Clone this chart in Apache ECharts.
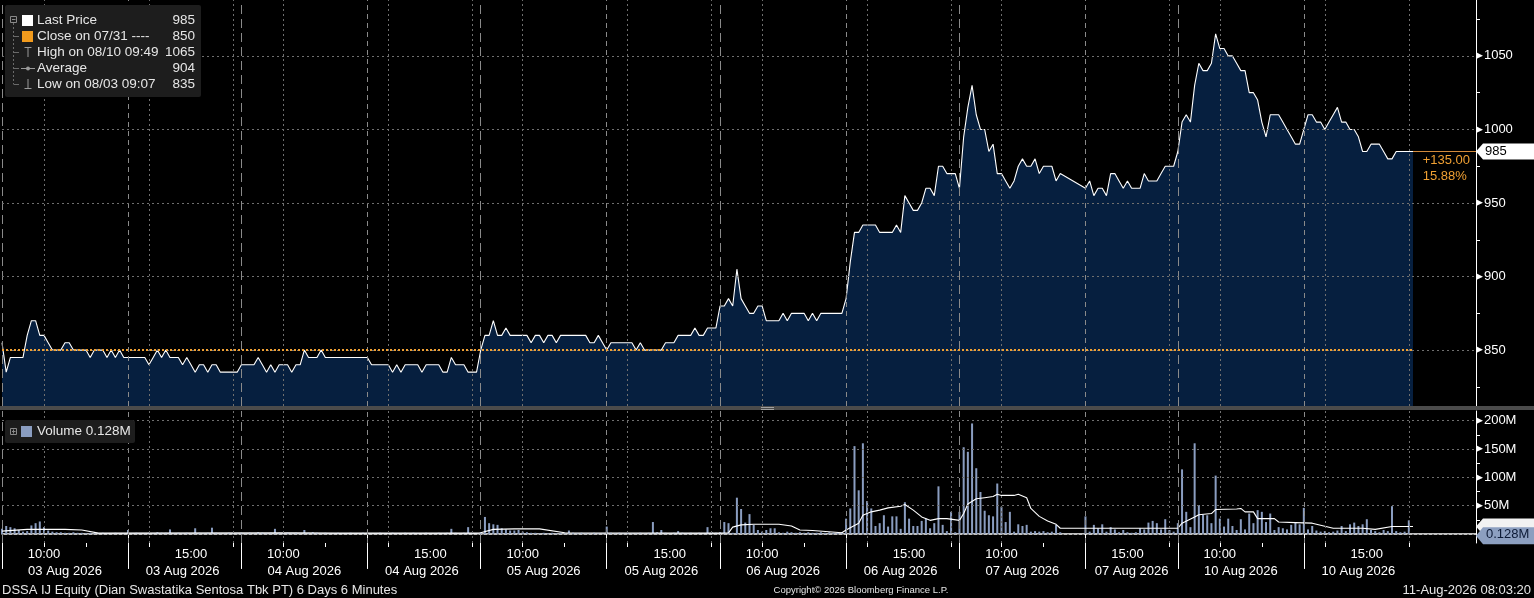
<!DOCTYPE html>
<html>
<head>
<meta charset="utf-8">
<title>DSSA IJ Equity - 6 Days 6 Minutes</title>
<script src="https://cdn.jsdelivr.net/npm/echarts@6/dist/echarts.min.js"></script>
<style>
  html, body { margin: 0; padding: 0; background: #000; }
  #chart { width: 1534px; height: 598px; }
</style>
</head>
<body>
<div id="chart"></div>
<script>
// ---- sessions on the time axis (6 minute slots) ----
const sessionDay = ['03 Aug 2026', '03 Aug 2026', '04 Aug 2026', '04 Aug 2026', '05 Aug 2026', '05 Aug 2026',
  '06 Aug 2026', '06 Aug 2026', '07 Aug 2026', '07 Aug 2026', '10 Aug 2026', '10 Aug 2026'];
const sessionOpen = ['09:00', '13:30', '09:00', '13:30', '09:00', '13:30', '09:00', '13:30', '09:00', '14:00', '09:00', '13:30'];
const sessionSlots = [30, 27, 30, 27, 30, 27, 30, 27, 30, 22, 30, 27];
const padSlots = 15;

// ---- last price per bar ----
const p03am = [855, 835, 845, 845, 845, 845, 860, 870, 870, 860, 860, 855, 850, 850, 850, 855, 855, 850, 850, 850, 850, 845, 850, 850, 850, 845, 850, 845, 850, 845];
const p03pm = [845, 845, 845, 845, 845, 840, 845, 850, 845, 850, 845, 845, 845, 840, 845, 840, 835, 840, 840, 835, 840, 840, 835, 835, 835, 835, 835];
const p04am = [840, 840, 840, 840, 845, 840, 835, 840, 835, 840, 840, 840, 835, 840, 840, 850, 845, 845, 845, 850, 845, 845, 845, 845, 845, 845, 845, 845, 845, 845];
const p04pm = [845, 840, 840, 840, 840, 840, 835, 840, 835, 840, 840, 840, 840, 835, 840, 840, 840, 840, 835, 835, 845, 840, 840, 840, 835, 835, 835];
const p05am = [850, 860, 860, 870, 860, 860, 865, 860, 860, 860, 860, 860, 855, 860, 860, 855, 860, 860, 855, 860, 860, 860, 860, 860, 860, 860, 855, 855, 860, 855];
const p05pm = [850, 855, 855, 855, 855, 855, 855, 850, 855, 850, 850, 850, 850, 850, 855, 855, 855, 860, 860, 860, 860, 865, 860, 860, 865, 865, 865];
const p06am = [880, 880, 885, 880, 905, 885, 880, 875, 875, 880, 880, 870, 870, 870, 870, 875, 870, 875, 875, 875, 875, 870, 875, 870, 875, 875, 875, 875, 875, 875];
const p06pm = [885, 910, 930, 930, 935, 935, 935, 935, 930, 930, 930, 930, 935, 930, 955, 950, 945, 945, 950, 960, 960, 955, 975, 975, 970, 970, 970];
const p07am = [960, 995, 1015, 1030, 1010, 1000, 1000, 985, 990, 970, 970, 965, 960, 965, 975, 980, 975, 975, 980, 970, 975, 975, 975, 965, 970];
const p07pm = [960, 965, 955, 960, 960, 955, 970, 970, 965, 960, 965, 960, 960, 960, 970, 965, 965, 965, 970, 975, 975, 975];
const p10am = [985, 1005, 1010, 1005, 1030, 1045, 1040, 1040, 1045, 1065, 1055, 1055, 1050, 1050, 1045, 1040, 1040, 1025, 1025, 1020, 1005, 995, 1010, 1010, 1010, 1005, 1000, 995, 990, 990];
const p10pm = [1000, 1010, 1010, 1005, 1005, 1000, 1005, 1010, 1015, 1005, 1005, 1000, 1000, 995, 985, 985, 990, 990, 990, 985, 980, 980, 985, 985, 985, 985, 985];
const priceSessions = [p03am, p03pm, p04am, p04pm, p05am, p05pm, p06am, p06pm, p07am, p07pm, p10am, p10pm];

// ---- volume per bar (millions) ----
const v03am = [9, 14, 12, 10, 7, 4, 5, 15, 19, 22, 12, 6, 4, 3, 3, 2, 2, 3, 2, 2, 1, 2, 1, 1, 2, 1, 1, 2, 1, 1];
const v03pm = [7, 1, 2, 1, 1, 2, 1, 3, 2, 2, 8, 1, 2, 1, 2, 1, 10, 2, 1, 2, 11, 2, 1, 1, 2, 1, 1];
const v04am = [2, 1, 2, 1, 3, 2, 1, 2, 9, 2, 1, 2, 1, 2, 1, 7, 2, 3, 2, 1, 2, 1, 1, 2, 1, 1, 2, 1, 1, 2];
const v04pm = [2, 1, 1, 2, 1, 1, 2, 1, 1, 2, 1, 2, 1, 1, 2, 1, 1, 2, 1, 2, 9, 2, 1, 2, 12, 2, 1];
const v05am = [3, 30, 19, 17, 16, 10, 8, 6, 6, 7, 4, 3, 2, 2, 1, 2, 1, 2, 1, 2, 1, 6, 2, 1, 2, 1, 1, 2, 1, 1];
const v05pm = [13, 2, 1, 2, 1, 2, 1, 1, 2, 1, 2, 21, 3, 7, 2, 1, 2, 5, 2, 1, 2, 1, 2, 1, 12, 3, 2];
const v06am = [3, 21, 19, 2, 64, 44, 20, 35, 16, 7, 4, 7, 10, 10, 3, 2, 4, 3, 2, 3, 2, 3, 2, 2, 3, 2, 3, 2, 2, 3];
const v06pm = [27, 45, 155, 77, 160, 58, 45, 14, 19, 33, 13, 31, 31, 9, 56, 27, 14, 14, 23, 27, 10, 19, 84, 16, 5, 39, 3];
const v07am = [39, 153, 145, 195, 116, 74, 41, 33, 31, 89, 48, 21, 39, 4, 17, 14, 16, 4, 5, 4, 5, 3, 4, 16, 3];
const v07pm = [31, 4, 16, 10, 17, 4, 12, 8, 3, 7, 3, 2, 3, 10, 8, 20, 23, 19, 8, 26, 7, 4];
const v10am = [19, 114, 39, 12, 160, 51, 34, 33, 19, 103, 27, 13, 27, 14, 7, 26, 8, 36, 19, 42, 39, 21, 36, 7, 12, 10, 8, 16, 21, 17];
const v10pm = [46, 8, 14, 6, 4, 5, 3, 4, 6, 14, 5, 17, 20, 14, 17, 26, 7, 5, 3, 7, 5, 49, 5, 3, 4, 24, 0.128];
const volumeSessions = [v03am, v03pm, v04am, v04pm, v05am, v05pm, v06am, v06pm, v07am, v07pm, v10am, v10pm];

// volume average line: [slot, millions]
const volAvgPoints = [[0, 5], [6, 8], [15, 8], [19, 7], [23, 1.5], [69, 2], [80, 1.5], [113, 1.5], [114, 2], [117, 8], [122, 9], [128, 9],
  [134, 2], [171, 1.5], [173, 2], [174, 12], [176, 16], [179, 17], [185, 17], [188, 14], [190, 7], [193, 6], [200, 2], [201, 7],
  [204, 19], [205, 33], [207, 39], [209, 42], [211, 46], [214, 49], [215, 52], [217, 42], [219, 30], [221, 24], [223, 27], [225, 27],
  [228, 24], [229, 36], [230, 53], [232, 62], [234, 64], [236, 66], [237, 70], [238, 68], [241, 68], [242, 70], [244, 64], [245, 45],
  [247, 31], [249, 23], [251, 17], [252, 10], [280, 10], [281, 19], [284, 30], [285, 34], [288, 36], [289, 43], [294, 44], [295, 45],
  [296, 39], [298, 39], [299, 27], [303, 27], [304, 21], [308, 20], [312, 19], [317, 10], [324, 10], [327, 8], [331, 13], [336, 13]];

// ---- axis values ----
const priceLabels = [850, 900, 950, 1000, 1050];
const priceTicks = [825, 850, 875, 900, 925, 950, 975, 1000, 1025, 1050, 1075];
const volLabels = [50, 100, 150, 200];
const volTicks = [25, 50, 75, 100, 125, 150, 175, 200];
const volGrid = [0, 50, 100, 150, 200];

const closePrev = 850;
const lastPrice = 985;
const lastVolume = 0.128;
const volAvgLast = 13;

const legendRows = [
  ['Last Price', '985'],
  ['Close on 07/31 ----', '850'],
  ['High on 08/10 09:49', '1065'],
  ['Average', '904'],
  ['Low on 08/03 09:07', '835']
];

const FONT = '"Liberation Sans", Arial, sans-serif';
const GRID_DOT = '#6f6f6f';

// ---- build the slot axis ----
function toMin(s) { const p = s.split(':'); return (+p[0]) * 60 + (+p[1]); }
function fmt(m) { return String(Math.floor(m / 60)).padStart(2, '0') + ':' + String(m % 60).padStart(2, '0'); }

let categories = [], price = [], volume = [];
let timeLabelIdx = new Set(), bigTickIdx = new Set(), hourTickIdx = new Set();
let dateLabelIdx = {};
let dayStartIdx = [], sessSepIdx = [], hourGridIdx = [];
let idx = 0;
sessionSlots.forEach(function (n, s) {
  const open = toMin(sessionOpen[s]);
  const pv = priceSessions[s], vv = volumeSessions[s];
  bigTickIdx.add(idx);
  if (s === 0 || sessionDay[s] !== sessionDay[s - 1]) dayStartIdx.push(idx); else sessSepIdx.push(idx);
  dateLabelIdx[idx + Math.floor(n / 2)] = sessionDay[s];
  for (let k = 0; k < n; k++) {
    const t = fmt(open + 6 * k);
    categories.push(sessionDay[s] + ' ' + t);
    price.push(k < pv.length ? pv[k] : null);
    volume.push(k < vv.length ? vv[k] : null);
    if (k > 0 && (t === '10:00' || t === '15:00')) timeLabelIdx.add(idx);
    if (k > 0 && ['10:00', '11:00', '14:00', '16:00'].indexOf(t) >= 0) hourTickIdx.add(idx);
    if (k > 0 && ['10:00', '14:00', '16:00'].indexOf(t) >= 0) hourGridIdx.push(idx);
    idx++;
  }
});
for (let k = 0; k < padSlots; k++) { categories.push('pad ' + k); idx++; }
const lastIdx = price.length - 1;
const endIdx = categories.length - 1;

function verticalLines() {
  let out = [];
  dayStartIdx.forEach(function (i) { out.push({ xAxis: i, lineStyle: { color: '#8a8a8a', type: [9, 5], width: 1 } }); });
  sessSepIdx.forEach(function (i) { out.push({ xAxis: i, lineStyle: { color: '#8a8a8a', type: [5, 4], width: 1 } }); });
  hourGridIdx.forEach(function (i) { out.push({ xAxis: i, lineStyle: { color: GRID_DOT, type: [2, 3], width: 1 } }); });
  return out;
}
function horizontalLines(vals) {
  return vals.map(function (v) { return { yAxis: v, lineStyle: { color: GRID_DOT, type: [2, 3], width: 1 } }; });
}

const tagPath = 'path://M0,8L7,0L58,0L58,16L7,16Z';

// ---- legend boxes / footer ----
let graphics = [];
graphics.push({ type: 'rect', shape: { x: 5, y: 5, width: 196, height: 92, r: 2 }, style: { fill: '#1d1d1d' }, z: 50 });
graphics.push({ type: 'rect', shape: { x: 10.5, y: 16.5, width: 6, height: 6 }, style: { fill: 'none', stroke: '#8a8a8a', lineWidth: 1 }, z: 51 });
graphics.push({ type: 'line', shape: { x1: 12, y1: 19.5, x2: 15.5, y2: 19.5 }, style: { stroke: '#8a8a8a' }, z: 51 });
graphics.push({ type: 'line', shape: { x1: 13.5, y1: 23, x2: 13.5, y2: 84 }, style: { stroke: '#6a6a6a', lineDash: [2, 2] }, z: 51 });
[36, 52, 68, 84].forEach(function (y) {
  graphics.push({ type: 'line', shape: { x1: 13.5, y1: y + 0.5, x2: 19, y2: y + 0.5 }, style: { stroke: '#6a6a6a' }, z: 51 });
});
graphics.push({ type: 'rect', shape: { x: 22, y: 15, width: 11, height: 11 }, style: { fill: '#ffffff' }, z: 51 });
graphics.push({ type: 'rect', shape: { x: 22, y: 31, width: 11, height: 11 }, style: { fill: '#f29b1d' }, z: 51 });
graphics.push({ type: 'polyline', shape: { points: [[24.5, 47.5], [31.5, 47.5]] }, style: { stroke: '#9a9a9a' }, z: 51 });
graphics.push({ type: 'line', shape: { x1: 28, y1: 47.5, x2: 28, y2: 57 }, style: { stroke: '#9a9a9a' }, z: 51 });
graphics.push({ type: 'line', shape: { x1: 21, y1: 68.5, x2: 35, y2: 68.5 }, style: { stroke: '#9a9a9a' }, z: 51 });
graphics.push({ type: 'circle', shape: { cx: 28, cy: 68.5, r: 2 }, style: { fill: '#9a9a9a' }, z: 51 });
graphics.push({ type: 'line', shape: { x1: 28, y1: 79, x2: 28, y2: 88.5 }, style: { stroke: '#9a9a9a' }, z: 51 });
graphics.push({ type: 'line', shape: { x1: 24.5, y1: 88.5, x2: 31.5, y2: 88.5 }, style: { stroke: '#9a9a9a' }, z: 51 });
legendRows.forEach(function (r, i) {
  const y = 20.5 + 16 * i;
  graphics.push({ type: 'text', z: 52, style: { text: r[0], x: 37, y: y, fill: '#e6e6e6', font: '13.5px ' + FONT, textVerticalAlign: 'middle' } });
  graphics.push({ type: 'text', z: 52, style: { text: r[1], x: 195, y: y, fill: '#e6e6e6', font: '13.5px ' + FONT, textAlign: 'right', textVerticalAlign: 'middle' } });
});

// volume legend
graphics.push({ type: 'rect', shape: { x: 5, y: 420, width: 130, height: 23, r: 2 }, style: { fill: '#1d1d1d' }, z: 50 });
graphics.push({ type: 'rect', shape: { x: 10.5, y: 428.5, width: 6, height: 6 }, style: { fill: 'none', stroke: '#8a8a8a' }, z: 51 });
graphics.push({ type: 'line', shape: { x1: 12, y1: 431.5, x2: 15.5, y2: 431.5 }, style: { stroke: '#8a8a8a' }, z: 51 });
graphics.push({ type: 'line', shape: { x1: 13.5, y1: 429.5, x2: 13.5, y2: 433.5 }, style: { stroke: '#8a8a8a' }, z: 51 });
graphics.push({ type: 'rect', shape: { x: 21, y: 426, width: 11, height: 11 }, style: { fill: '#8a9dc0' }, z: 51 });
graphics.push({ type: 'text', z: 52, style: { text: 'Volume 0.128M', x: 37, y: 431.5, fill: '#e6e6e6', font: '13.5px ' + FONT, textVerticalAlign: 'middle' } });

// panel separator with handle
graphics.push({ type: 'rect', shape: { x: 0, y: 406, width: 1534, height: 4 }, style: { fill: '#4b4b4b' }, z: 40 });
graphics.push({ type: 'line', shape: { x1: 761, y1: 407.5, x2: 774, y2: 407.5 }, style: { stroke: '#a0a0a0' }, z: 41 });
graphics.push({ type: 'line', shape: { x1: 761, y1: 409.5, x2: 774, y2: 409.5 }, style: { stroke: '#a0a0a0' }, z: 41 });

// footer
graphics.push({ type: 'text', style: { text: 'DSSA IJ Equity (Dian Swastatika Sentosa Tbk PT) 6 Days 6 Minutes', x: 2, y: 590, fill: '#e6e6e6', font: '13px ' + FONT, textVerticalAlign: 'middle' } });
graphics.push({ type: 'text', style: { text: 'Copyright\u00a9 2026 Bloomberg Finance L.P.', x: 861, y: 590, fill: '#e6e6e6', font: '9.5px ' + FONT, textAlign: 'center', textVerticalAlign: 'middle' } });
graphics.push({ type: 'text', style: { text: '11-Aug-2026 08:03:20', x: 1531, y: 590, fill: '#e6e6e6', font: '13px ' + FONT, textAlign: 'right', textVerticalAlign: 'middle' } });

// ---- chart ----
const chart = echarts.init(document.getElementById('chart'), null, { renderer: 'canvas' });

function rightAxisLabel(suffix) {
  return {
    margin: 0,
    formatter: function (v) { return '{t|\u25B6}{n|' + v + suffix + '}'; },
    rich: {
      t: { fontFamily: '"DejaVu Sans"', fontSize: 9, color: '#ffffff' },
      n: { fontFamily: FONT, fontSize: 13, color: '#ffffff', padding: [0, 0, 0, 1] }
    }
  };
}

const option = {
  backgroundColor: '#000000',
  animation: false,
  textStyle: { fontFamily: FONT },
  grid: [
    { left: 2, right: 58, top: 0, height: 406 },
    { left: 2, right: 58, top: 411, height: 132 }
  ],
  xAxis: [
    { gridIndex: 0, type: 'category', data: categories, boundaryGap: false, show: false },
    {
      gridIndex: 1, type: 'category', data: categories, boundaryGap: false, position: 'bottom',
      axisLine: { show: true, lineStyle: { color: '#ffffff', width: 1.5 } },
      axisTick: { show: true, length: 35, interval: function (i) { return bigTickIdx.has(i); }, lineStyle: { color: '#ffffff' } },
      axisLabel: {
        interval: function (i) { return timeLabelIdx.has(i); },
        formatter: function (v) { return v.slice(-5); },
        color: '#ffffff', fontSize: 13, margin: 5, fontFamily: FONT
      },
      splitLine: { show: false }
    },
    {
      gridIndex: 1, type: 'category', data: categories, boundaryGap: false, position: 'bottom', offset: 0,
      axisLine: { show: false },
      axisTick: { show: true, length: 4, interval: function (i) { return hourTickIdx.has(i); }, lineStyle: { color: '#ffffff' } },
      axisLabel: {
        interval: function (i) { return dateLabelIdx[i] !== undefined; },
        formatter: function (v, i) { return dateLabelIdx[i] || ''; },
        color: '#ffffff', fontSize: 13, margin: 22, fontFamily: FONT
      },
      splitLine: { show: false }
    }
  ],
  yAxis: [
    {
      gridIndex: 0, type: 'value', position: 'right', min: 812, max: 1088,
      axisLine: { show: true, lineStyle: { color: '#ffffff' } },
      axisTick: { show: true, length: 4, customValues: priceTicks, lineStyle: { color: '#ffffff' } },
      axisLabel: Object.assign({ customValues: priceLabels }, rightAxisLabel('')),
      splitLine: { show: false }
    },
    {
      gridIndex: 1, type: 'value', position: 'right', min: -16, max: 217,
      axisLine: { show: true, lineStyle: { color: '#ffffff' } },
      axisTick: { show: true, length: 4, customValues: volTicks, lineStyle: { color: '#ffffff' } },
      axisLabel: Object.assign({ customValues: volLabels }, rightAxisLabel('M')),
      splitLine: { show: false }
    }
  ],
  graphic: graphics,
  series: [
    {
      name: 'Last Price', type: 'line', xAxisIndex: 0, yAxisIndex: 0,
      data: price, connectNulls: true, symbol: 'none', z: 3,
      lineStyle: { color: '#ffffff', width: 1.1 },
      areaStyle: { color: '#061f3f', origin: 'start', opacity: 1 },
      markLine: {
        silent: true, symbol: ['none', 'none'], label: { show: false }, animation: false,
        data: verticalLines().concat(horizontalLines(priceLabels)).concat([
          [{ coord: [0, closePrev] }, { coord: [lastIdx, closePrev], lineStyle: { color: '#f0a033', type: [2, 2], width: 2 } }],
          [{ coord: [lastIdx, lastPrice] }, { coord: [endIdx, lastPrice], lineStyle: { color: '#d28a3c', type: 'solid', width: 1 } }]
        ])
      },
      markPoint: {
        silent: true, animation: false,
        data: [
          {
            coord: [endIdx, lastPrice], symbol: tagPath, symbolSize: [58, 16], symbolOffset: [29, 0],
            itemStyle: { color: '#ffffff' },
            label: { show: true, formatter: String(lastPrice), position: [9, 1], color: '#000000', fontSize: 13, fontFamily: FONT }
          },
          {
            coord: [lastIdx + 1, lastPrice], symbol: 'rect', symbolSize: 1, itemStyle: { color: 'rgba(0,0,0,0)' },
            label: {
              show: true, formatter: '+135.00\n15.88%', position: [6, 1], align: 'left', verticalAlign: 'top',
              color: '#f0a033', fontSize: 13, lineHeight: 16, fontFamily: FONT
            }
          }
        ]
      }
    },
    {
      name: 'Volume', type: 'bar', xAxisIndex: 1, yAxisIndex: 1,
      data: volume, barWidth: 2, itemStyle: { color: '#8a9dc0' }, z: 2,
      markLine: {
        silent: true, symbol: ['none', 'none'], label: { show: false }, animation: false,
        data: verticalLines().concat(horizontalLines(volGrid))
      }
    },
    {
      name: 'Volume Average', type: 'line', xAxisIndex: 1, yAxisIndex: 1,
      data: volAvgPoints, symbol: 'none', z: 4,
      lineStyle: { color: '#ffffff', width: 1.1 },
      markPoint: {
        silent: true, animation: false,
        data: [
          {
            coord: [endIdx, volAvgLast], symbol: tagPath, symbolSize: [58, 16], symbolOffset: [29, 0],
            itemStyle: { color: '#f2f2f2' }, label: { show: false }
          },
          {
            coord: [endIdx, lastVolume], symbol: tagPath, symbolSize: [58, 17], symbolOffset: [29, 2],
            itemStyle: { color: '#8c9fc0' },
            label: { show: true, formatter: '0.128M', position: [10, 1], color: '#0c1a36', fontSize: 13, fontFamily: FONT }
          }
        ]
      }
    }
  ]
};

chart.setOption(option);
</script>
</body>
</html>
